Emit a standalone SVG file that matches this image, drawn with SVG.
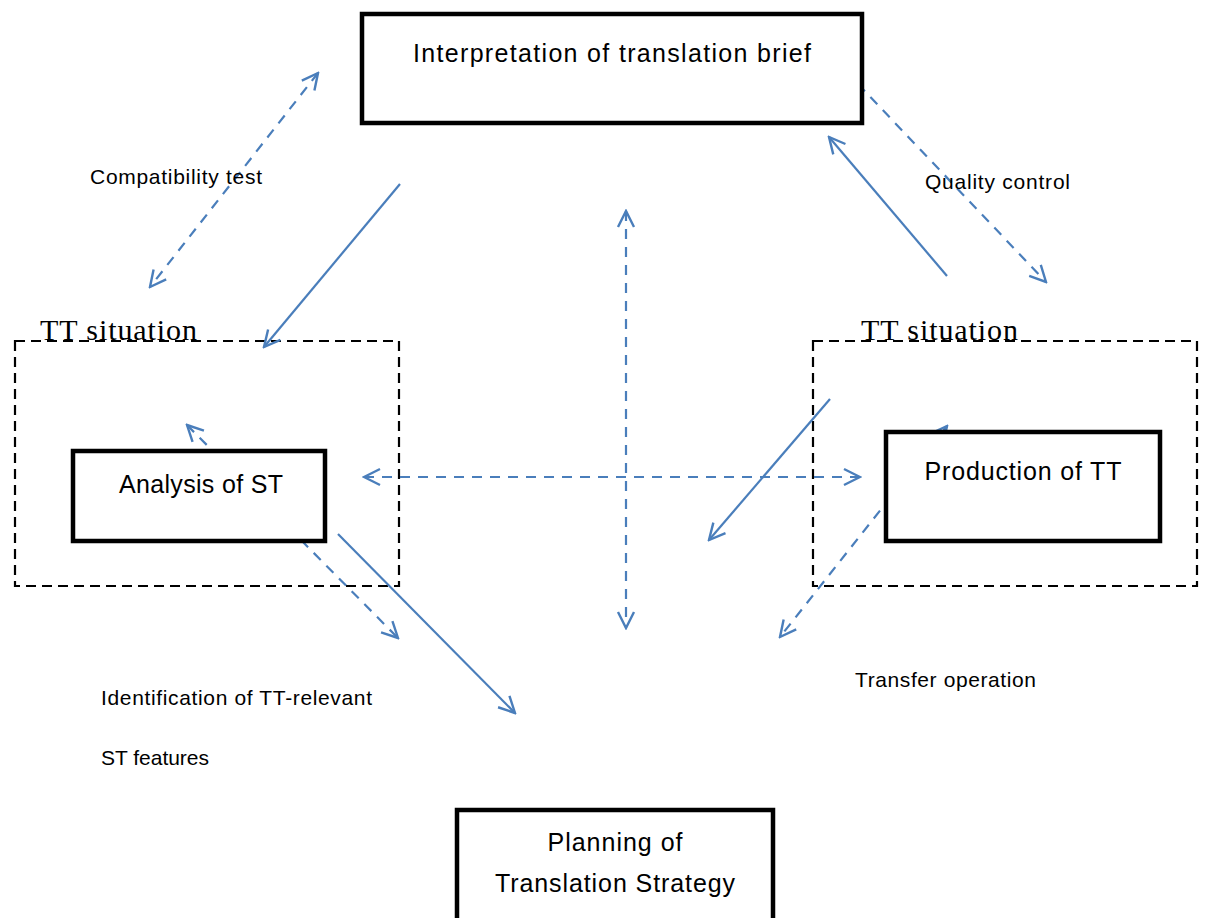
<svg xmlns="http://www.w3.org/2000/svg" width="1206" height="918" viewBox="0 0 1206 918">
<defs>
<marker id="ah" viewBox="0 0 20 20" refX="18" refY="10" markerWidth="20" markerHeight="20" markerUnits="userSpaceOnUse" orient="auto-start-reverse">
<path d="M2,2 L18,10 L2,18" fill="none" stroke="#4A7EBB" stroke-width="2.4"/>
</marker>
<style>
.c{stroke:#4A7EBB;stroke-width:2.2;fill:none}
.d{stroke-dasharray:10,8}
.box{fill:#fff;stroke:#000;stroke-width:4.5}
.sit{fill:none;stroke:#000;stroke-width:2.2;stroke-dasharray:10,6}
.t{font-family:"Liberation Sans",Arial,sans-serif;fill:#000;font-size:25px}
.lbl{font-family:"Liberation Sans",Arial,sans-serif;font-size:21px;fill:#000}
.tts{font-family:"Liberation Serif","Times New Roman",serif;font-size:30px;fill:#000}
</style>
</defs>
<g id="situations">
<rect class="sit" x="15" y="341" width="384" height="245"/>
<rect class="sit" x="813" y="341" width="384" height="245"/>
<text class="tts" x="40" y="340" textLength="157">TT situation</text>
<text class="tts" x="861" y="340" textLength="157">TT situation</text>
</g>
<g id="connectors">
<line class="c d" x1="318" y1="73" x2="150" y2="287" marker-start="url(#ah)" marker-end="url(#ah)"/>
<line class="c" x1="400" y1="184" x2="264" y2="347" marker-end="url(#ah)"/>
<line class="c d" x1="626" y1="211" x2="626" y2="628" marker-start="url(#ah)" marker-end="url(#ah)"/>
<line class="c d" x1="364" y1="477" x2="860" y2="477" marker-start="url(#ah)" marker-end="url(#ah)"/>
<line class="c d" x1="858" y1="84" x2="1046" y2="282" marker-end="url(#ah)"/>
<line class="c" x1="947" y1="276" x2="829" y2="137" marker-end="url(#ah)"/>
<line class="c" x1="830" y1="399" x2="709" y2="540" marker-end="url(#ah)"/>
<line class="c" x1="338" y1="534" x2="515" y2="713" marker-end="url(#ah)"/>
<line class="c d" x1="187" y1="425" x2="398" y2="638" marker-start="url(#ah)" marker-end="url(#ah)"/>
<line class="c d" x1="947" y1="426" x2="780" y2="637" marker-start="url(#ah)" marker-end="url(#ah)"/>
</g>
<g id="interpretation">
<rect class="box" x="362" y="14" width="500" height="109"/>
<text class="t" x="612" y="62" text-anchor="middle" textLength="398">Interpretation of translation brief</text>
</g>
<g id="analysis">
<rect class="box" x="73" y="451" width="252" height="90"/>
<text class="t" x="201" y="493" text-anchor="middle" textLength="164">Analysis of ST</text>
</g>
<g id="production">
<rect class="box" x="886" y="432" width="274" height="109"/>
<text class="t" x="1023" y="480" text-anchor="middle" textLength="197">Production of TT</text>
</g>
<g id="planning">
<rect class="box" x="457" y="810" width="316" height="112"/>
<text class="t" x="615" y="851" text-anchor="middle" textLength="135">Planning of</text>
<text class="t" x="615" y="892" text-anchor="middle" textLength="240">Translation Strategy</text>
</g>
<g id="labels">
<text class="lbl" x="90" y="184" textLength="172">Compatibility test</text>
<text class="lbl" x="925" y="189" textLength="145">Quality control</text>
<text class="lbl" x="101" y="705" textLength="271">Identification of TT-relevant</text>
<text class="lbl" x="101" y="765" textLength="108">ST features</text>
<text class="lbl" x="855" y="687" textLength="181">Transfer operation</text>
</g>
</svg>
